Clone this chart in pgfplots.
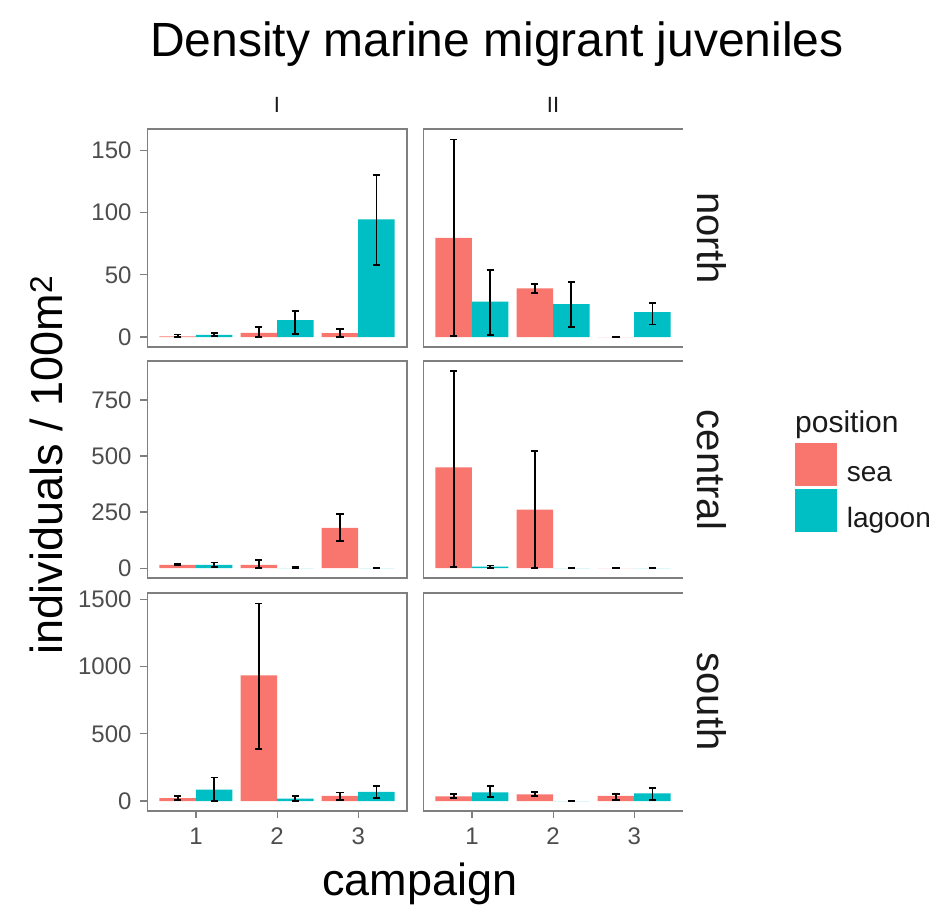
\documentclass[border=0pt]{standalone}
\usepackage{pgfplots}
\pgfplotsset{compat=1.18}
\usepackage{pgfplotstable}
\usepackage{fontspec}
\setmainfont{Liberation Sans}

\definecolor{sea}{HTML}{F8766D}
\definecolor{lagoon}{HTML}{00BFC4}
\definecolor{framegray}{HTML}{7F7F7F}
\definecolor{ticklab}{HTML}{4D4D4D}
\definecolor{striptext}{HTML}{1A1A1A}

% mean density (sy, ly) with lower / upper bounds of the error bars
\pgfplotstableread{
c  sy    shi    slo   ly    lhi   llo
1  0.5   2      0     1.8   3.5   0.6
2  3.3   8      0     13.5  21    2.7
3  3.2   6.2    0.2   94.5  130   58
}\northI
\pgfplotstableread{
c  sy    shi    slo   ly    lhi   llo
1  79.5  158.5  1     28.5  53.5  1.5
2  39    42.5   35.5  26.5  44    8
3  0     0.5    0     20    27.5  10
}\northII
\pgfplotstableread{
c  sy    shi    slo   ly    lhi   llo
1  15    18     12    15    25    5
2  15    35     0     0     4     0
3  180   243    120   0     1     0
}\centralI
\pgfplotstableread{
c  sy    shi    slo   ly    lhi   llo
1  450   880    5     7     12    2
2  261   521    1     0     1     0
3  0     1      0     0     1     0
}\centralII
\pgfplotstableread{
c  sy    shi    slo   ly    lhi   llo
1  22    38     8     85    175   3
2  935   1470   385   18    37    2
3  38    63     5     68    112   22
}\southI
\pgfplotstableread{
c  sy    shi    slo   ly    lhi   llo
1  35    50     20    65    110   30
2  50    65     35    0     2     0
3  38    52     8     58    100   5
}\southII

\pgfplotsset{
  facet/.style={
    scale only axis, width=259.6pt,
    xmin=0.4, xmax=3.6,
    axis line style={draw=none},
    tick pos=left, tick align=outside, major tick length=7pt,
    major tick style={framegray, line width=1.2pt},
    ticklabel style={font=\fontsize{24}{24}\selectfont, text=ticklab, inner sep=0pt},
    yticklabel style={anchor=east, xshift=-8.6pt},
    xticklabel style={anchor=north, yshift=-10pt},
    scaled y ticks=false,
    /pgf/number format/1000 sep={},
    /pgf/number format/assume math mode=true,
    xtick=\empty,
    clip=false,
  },
  fullframe/.style={after end axis/.append code={
    \draw[framegray, line width=1.5pt] (rel axis cs:0,0) rectangle (rel axis cs:1,1);}},
  openframe/.style={ytick=\empty, after end axis/.append code={
    \draw[framegray, line width=1.5pt] (rel axis cs:1,1) -- (rel axis cs:0,1)
      -- (rel axis cs:0,0) -- (rel axis cs:1,0);}},
  rownorth/.style={height=218pt, ymin=-8, ymax=167, ytick={0,50,100,150}},
  rowcentral/.style={height=217pt, ymin=-44, ymax=924, ytick={0,250,500,750}},
  rowsouth/.style={height=218pt, ymin=-74, ymax=1548, ytick={0,500,1000,1500},
    xtick={1,2,3}},
  errs/.style={error bars/.cd, y dir=both, y explicit,
    error bar style={black, line width=1.8pt},
    error mark options={black, rotate=90, mark size=3.6pt, line width=1.8pt}},
}

% sea bars sit left of each campaign, lagoon bars right of it (dodge width 0.9)
\newcommand\positionbars[1]{%
  \addplot[ybar, bar width=0.45, bar shift=0pt, fill=sea, draw=none, forget plot, errs]
    table[x expr=\thisrow{c}-0.225, y=sy, y error plus expr=\thisrow{shi}-\thisrow{sy},
          y error minus expr=\thisrow{sy}-\thisrow{slo}] {#1};
  \addplot[ybar, bar width=0.45, bar shift=0pt, fill=lagoon, draw=none, forget plot, errs]
    table[x expr=\thisrow{c}+0.225, y=ly, y error plus expr=\thisrow{lhi}-\thisrow{ly},
          y error minus expr=\thisrow{ly}-\thisrow{llo}] {#1};
}

\begin{document}
\begin{tikzpicture}
\useasboundingbox (0pt,0pt) rectangle (944pt,904pt);

% north
\begin{axis}[facet, rownorth, fullframe, at={(147.3pt,557pt)}, anchor=south west]
  \positionbars{\northI}
\end{axis}
\begin{axis}[facet, rownorth, openframe, at={(423.3pt,557pt)}, anchor=south west]
  \positionbars{\northII}
\end{axis}

% central
\begin{axis}[facet, rowcentral, fullframe, at={(147.3pt,326pt)}, anchor=south west]
  \positionbars{\centralI}
\end{axis}
\begin{axis}[facet, rowcentral, openframe, at={(423.3pt,326pt)}, anchor=south west,
  legend style={at={(axis description cs:1.431,0.6235)}, anchor=north west,
    draw=none, fill=none, inner sep=0pt, outer sep=0pt, row sep=3pt, column sep=10pt,
    nodes={inner sep=0pt, text height=10.5pt, text depth=3.5pt,
      font=\fontsize{28}{28}\selectfont, text=striptext}},
  legend cell align=left,
  legend image code/.code={\fill[#1] (0pt,-7.5pt) rectangle (42pt,35.5pt);}]
  \addlegendimage{fill=sea, draw=none}
  \addlegendimage{fill=lagoon, draw=none}
  \positionbars{\centralII}
  \legend{sea, lagoon}
\end{axis}

% south
\begin{axis}[facet, rowsouth, fullframe, at={(147.3pt,93pt)}, anchor=south west]
  \positionbars{\southI}
\end{axis}
\begin{axis}[facet, rowsouth, openframe, at={(423.3pt,93pt)}, anchor=south west]
  \positionbars{\southII}
\end{axis}

% titles and strip labels
\node[font=\fontsize{48}{48}\selectfont, anchor=base, inner sep=0pt] at (497pt,847pt)
  {Density marine migrant juveniles};
\node[font=\fontsize{22}{22}\selectfont, text=striptext, anchor=base, inner sep=0pt]
  at (277pt,791pt) {I};
\node[font=\fontsize{22}{22}\selectfont, text=striptext, anchor=base, inner sep=0pt]
  at (553pt,791pt) {II};
\node[font=\fontsize{40}{40}\selectfont, text=striptext, rotate=-90, anchor=base, inner sep=0pt]
  at (697pt,666pt) {north};
\node[font=\fontsize{40}{40}\selectfont, text=striptext, rotate=-90, anchor=base, inner sep=0pt]
  at (697pt,434pt) {central};
\node[font=\fontsize{40}{40}\selectfont, text=striptext, rotate=-90, anchor=base, inner sep=0pt]
  at (697pt,202.5pt) {south};
\node[font=\fontsize{45}{45}\selectfont, rotate=90, anchor=base, inner sep=0pt]
  at (62pt,439pt) {individuals / 100m\textsuperscript{2}};
\node[font=\fontsize{45}{45}\selectfont, anchor=base, inner sep=0pt]
  at (420pt,9pt) {campaign};
\node[font=\fontsize{30}{30}\selectfont, text=striptext, anchor=base west, inner sep=0pt]
  at (795pt,471pt) {position};
\end{tikzpicture}
\end{document}
